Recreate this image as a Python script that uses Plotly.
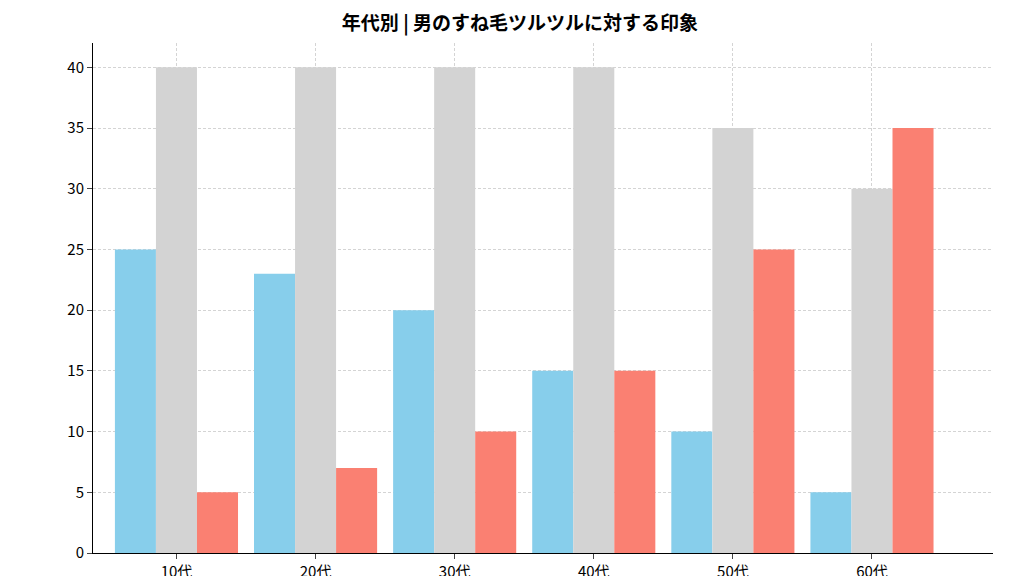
import plotly.graph_objects as go

categories = ["10代", "20代", "30代", "40代", "50代", "60代"]
series_a = [25, 23, 20, 15, 10, 5]
series_b = [40, 40, 40, 40, 35, 30]
series_c = [5, 7, 10, 15, 25, 35]
names = ["好印象", "どちらでもない", "悪印象"]
colors = ["#87CEEB", "#D3D3D3", "#FA8072"]

fig = go.Figure()
for n, v, c in zip(names, [series_a, series_b, series_c], colors):
    fig.add_bar(x=categories, y=v, name=n, marker_color=c, marker_line_width=0)

fig.update_layout(
    width=1024, height=576,
    barmode="group", bargap=0.115, bargroupgap=0,
    showlegend=False,
    plot_bgcolor="white", paper_bgcolor="white",
    font=dict(family="Noto Sans CJK JP", size=15, color="black"),
    title=dict(text="<b>年代別 | 男のすね毛ツルツルに対する印象</b>", x=0.5, xanchor="center",
               y=0.985, yanchor="top", font=dict(size=19)),
    margin=dict(l=85, r=39, t=35, b=31),
)
fig.update_xaxes(range=[-0.6, 5.87], automargin=False, showline=True, linecolor="black",
                 linewidth=1, ticks="outside",
                 showgrid=True, gridcolor="#d4d4d4", griddash="3px,2px", gridwidth=0.8)
fig.update_yaxes(range=[0, 42], dtick=5, automargin=False, showline=True, linecolor="black",
                 linewidth=1, ticks="outside", showgrid=True, gridcolor="#d4d4d4",
                 griddash="3px,2px", gridwidth=0.8, zeroline=False)
fig.write_html("out.html")
